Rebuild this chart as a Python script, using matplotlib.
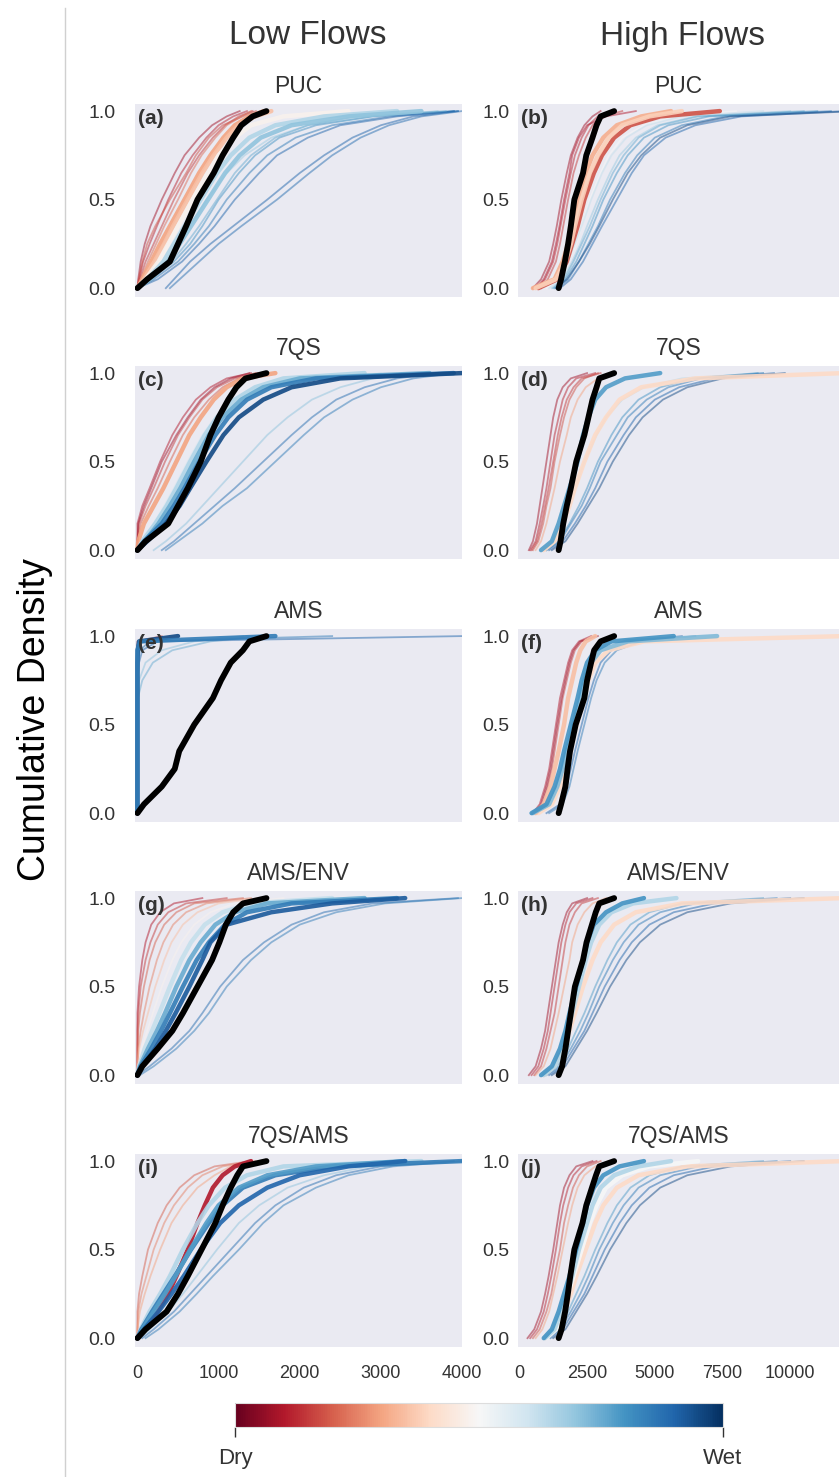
import matplotlib.pyplot as plt
import numpy as np
from matplotlib.lines import Line2D

plt.rcParams['font.family'] = ['Liberation Sans', 'DejaVu Sans']
TXT = '#333333'

# cumulative density levels at which each ensemble member's flow quantile is listed
probs = [0, .05, .15, .25, .35, .5, .65, .75, .85, .92, .97, 1.0]

# ---- (a) low flows, PUC ----
a_obs = [0, 120, 400, 500, 600, 740, 940, 1050, 1180, 1280, 1420, 1590]
a_curves = [
    [0, 10, 40, 90, 160, 300, 460, 580, 760, 920, 1100, 1260],
    [0, 20, 70, 150, 240, 380, 540, 680, 850, 1000, 1180, 1350],
    [0, 30, 100, 200, 300, 450, 620, 760, 930, 1080, 1250, 1420],
    [0, 15, 60, 120, 220, 400, 600, 720, 880, 1050, 1300, 1460],
    [0, 40, 130, 230, 330, 500, 660, 790, 960, 1100, 1280, 1400],
    [0, 60, 170, 280, 400, 580, 760, 900, 1060, 1200, 1380, 1560],
    [0, 80, 210, 330, 440, 620, 800, 940, 1100, 1250, 1450, 1650],
    [0, 100, 260, 380, 500, 680, 870, 1000, 1200, 1400, 1800, 2600],
    [0, 120, 320, 450, 580, 780, 980, 1150, 1380, 1700, 2300, 3200],
    [0, 150, 380, 520, 660, 870, 1080, 1260, 1520, 1900, 2600, 3500],
    [0, 140, 350, 500, 640, 850, 1100, 1320, 1650, 2100, 2900, 3700],
    [0, 160, 450, 650, 800, 1000, 1250, 1450, 1750, 2200, 2900, 3900],
    [0, 200, 500, 700, 880, 1100, 1380, 1600, 1950, 2400, 3100, 3950],
    [0, 250, 550, 760, 950, 1200, 1500, 1720, 2100, 2500, 3200, 3900],
    [0, 180, 420, 600, 760, 980, 1200, 1400, 1700, 2100, 2700, 3800],
    [350, 450, 650, 900, 1180, 1600, 2000, 2300, 2650, 3000, 3400, 3950],
    [400, 520, 760, 1000, 1280, 1720, 2120, 2400, 2750, 3100, 3500, 4000],
]
a_wet = [0.08, 0.12, 0.15, 0.18, 0.22, 0.30, 0.35, 0.48, 0.65, 0.70, 0.68,
         0.80, 0.85, 0.90, 0.75, 0.90, 0.88]
a_sel = [0, 0, 0, 0, 0, 1, 1, 1, 1, 1, 0, 0, 0, 0, 0, 0, 0]

# ---- (b) high flows, PUC ----
b_obs = [1450, 1540, 1680, 1800, 1900, 2030, 2350, 2470, 2700, 2850, 3000, 3500]
b_curves = [
    [500, 800, 1100, 1250, 1380, 1550, 1750, 1900, 2150, 2400, 2700, 3000],
    [650, 950, 1250, 1400, 1520, 1700, 1900, 2050, 2300, 2550, 2900, 3400],
    [800, 1050, 1350, 1500, 1620, 1800, 2000, 2200, 2450, 2700, 3100, 3800],
    [600, 900, 1200, 1350, 1480, 1650, 1850, 1950, 2200, 2500, 3200, 4300],
    [1000, 1500, 1800, 2100, 2300, 2600, 3000, 3300, 3800, 4600, 5800, 8000],
    [1100, 1500, 1800, 2050, 2300, 2650, 3050, 3400, 3950, 4700, 6000, 9000],
    [1200, 1600, 1950, 2250, 2500, 2900, 3350, 3700, 4300, 5100, 6500, 10000],
    [1250, 1650, 2000, 2300, 2600, 3000, 3450, 3850, 4400, 5200, 6600, 10500],
    [1300, 1700, 2100, 2400, 2700, 3100, 3600, 4000, 4600, 5500, 7000, 11000],
    [1400, 1800, 2200, 2550, 2900, 3350, 3900, 4350, 5000, 6000, 7600, 11500],
    [1500, 1900, 2350, 2700, 3050, 3600, 4150, 4600, 5400, 6500, 8200, 12000],
    [1350, 1750, 2200, 2600, 2950, 3450, 4000, 4500, 5200, 6200, 7800, 12500],
    [700, 1400, 1750, 1950, 2150, 2400, 2750, 3050, 3500, 4100, 5200, 7400],
    [500, 1300, 1600, 1800, 1950, 2150, 2450, 2700, 3100, 3600, 4500, 5600],
    [600, 1350, 1700, 1900, 2050, 2300, 2600, 2900, 3300, 3800, 4800, 6000],
]
b_wet = [0.08, 0.12, 0.15, 0.10, 0.50, 0.62, 0.68, 0.75, 0.80, 0.85, 0.90,
         0.95, 0.18, 0.32, 0.38]
b_sel = [0, 0, 0, 0, 0, 0, 0, 0, 0, 0, 0, 0, 1, 1, 1]

# ---- (c) low flows, 7QS ----
c_obs = [0, 100, 380, 500, 620, 780, 900, 1000, 1120, 1220, 1330, 1590]
c_curves = [
    [0, 0, 0, 60, 150, 280, 430, 560, 720, 900, 1100, 1400],
    [0, 0, 20, 100, 200, 340, 500, 640, 800, 980, 1200, 1480],
    [0, 0, 40, 140, 250, 400, 560, 700, 880, 1050, 1250, 1450],
    [0, 0, 10, 80, 170, 300, 480, 620, 780, 950, 1150, 1380],
    [0, 60, 200, 330, 450, 620, 800, 960, 1180, 1450, 1900, 3000],
    [300, 450, 700, 950, 1200, 1550, 1900, 2150, 2450, 2800, 3200, 3700],
    [350, 500, 800, 1050, 1350, 1700, 2050, 2300, 2650, 3000, 3400, 3900],
    [200, 350, 600, 800, 1000, 1300, 1600, 1850, 2150, 2500, 2900, 3500],
    [0, 10, 80, 200, 320, 480, 640, 780, 940, 1100, 1300, 1700],
    [0, 60, 220, 360, 480, 650, 830, 980, 1200, 1450, 1800, 2800],
    [0, 90, 260, 400, 530, 700, 880, 1050, 1280, 1550, 2000, 3600],
    [0, 80, 300, 450, 580, 760, 960, 1120, 1350, 1650, 2200, 3900],
    [0, 120, 350, 520, 650, 850, 1060, 1250, 1550, 1900, 2500, 4000],
]
c_wet = [0.10, 0.15, 0.20, 0.08, 0.60, 0.88, 0.85, 0.70, 0.30, 0.65, 0.75,
         0.85, 0.95]
c_sel = [0, 0, 0, 0, 0, 0, 0, 0, 1, 1, 1, 1, 1]

# ---- (d) high flows, 7QS ----
d_obs = [1450, 1520, 1620, 1750, 1900, 2100, 2400, 2550, 2700, 2850, 2950, 3500]
d_curves = [
    [350, 500, 650, 750, 850, 1000, 1150, 1250, 1400, 1600, 1900, 2500],
    [400, 600, 750, 880, 1000, 1150, 1300, 1450, 1600, 1800, 2100, 2800],
    [500, 700, 880, 1000, 1150, 1300, 1500, 1650, 1850, 2100, 2400, 2900],
    [450, 650, 820, 950, 1080, 1250, 1420, 1560, 1750, 2000, 2300, 3000],
    [600, 800, 1000, 1150, 1300, 1500, 1750, 1900, 2150, 2450, 2900, 3400],
    [800, 1200, 1550, 1800, 2050, 2400, 2850, 3200, 3800, 4600, 6000, 9000],
    [1000, 1450, 1850, 2200, 2500, 2900, 3400, 3800, 4400, 5200, 6400, 8800],
    [1000, 1500, 1900, 2300, 2600, 3000, 3600, 4000, 4700, 5500, 6700, 9000],
    [1100, 1600, 2050, 2450, 2800, 3250, 3850, 4300, 5000, 5900, 7200, 9400],
    [1200, 1700, 2150, 2550, 2950, 3450, 4050, 4550, 5300, 6200, 7500, 9800],
    [900, 1300, 1600, 1850, 2050, 2400, 2800, 3200, 3700, 4500, 6500, 12000],
    [800, 1200, 1450, 1650, 1850, 2150, 2350, 2550, 2800, 3200, 3900, 5200],
]
d_wet = [0.08, 0.12, 0.18, 0.15, 0.30, 0.65, 0.80, 0.85, 0.90, 0.95, 0.40, 0.78]
d_sel = [0, 0, 0, 0, 0, 0, 0, 0, 0, 0, 1, 1]

# ---- (e) low flows, AMS ----
e_obs = [0, 80, 300, 460, 515, 700, 930, 1030, 1150, 1300, 1380, 1590]
e_curves = [
    [0, 0, 0, 0, 0, 0, 0, 0, 0, 0, 0, 300],
    [0, 0, 0, 0, 0, 0, 5, 60, 190, 430, 900, 1500],
    [0, 0, 0, 0, 0, 0, 0, 20, 100, 300, 700, 1300],
    [0, 0, 0, 0, 0, 0, 0, 0, 20, 60, 250, 4000],
    [0, 0, 0, 0, 0, 0, 0, 0, 0, 30, 150, 2400],
    [0, 0, 0, 0, 0, 0, 0, 0, 0, 5, 20, 500],
    [0, 0, 0, 0, 0, 0, 0, 0, 0, 0, 30, 1700],
]
e_wet = [0.15, 0.75, 0.70, 0.90, 0.85, 0.95, 0.85]
e_sel = [0, 0, 0, 0, 0, 1, 1]

# ---- (f) high flows, AMS ----
f_obs = [1450, 1540, 1700, 1780, 1870, 2080, 2400, 2500, 2650, 2760, 3000, 3500]
f_curves = [
    [500, 750, 950, 1100, 1200, 1350, 1500, 1650, 1800, 1950, 2200, 2650],
    [600, 850, 1050, 1200, 1300, 1450, 1600, 1750, 1900, 2050, 2300, 2800],
    [550, 800, 1000, 1150, 1250, 1400, 1560, 1700, 1850, 2000, 2250, 2900],
    [1000, 1500, 1750, 1900, 2050, 2300, 2550, 2750, 3000, 3400, 4200, 6000],
    [1100, 1600, 1850, 2000, 2150, 2400, 2650, 2850, 3150, 3600, 4500, 6500],
    [700, 1200, 1500, 1700, 1850, 2100, 2350, 2550, 2800, 3300, 4600, 12000],
    [600, 900, 1150, 1300, 1450, 1650, 1800, 1950, 2100, 2250, 2450, 2800],
    [500, 1100, 1400, 1600, 1750, 2000, 2250, 2400, 2650, 3000, 4000, 7300],
    [450, 1000, 1300, 1500, 1650, 1900, 2150, 2300, 2500, 2800, 3400, 5700],
]
f_wet = [0.10, 0.15, 0.08, 0.90, 0.85, 0.40, 0.35, 0.72, 0.80]
f_sel = [0, 0, 0, 0, 0, 1, 1, 1, 1]

# ---- (g) low flows, AMS/ENV ----
g_obs = [0, 60, 250, 430, 560, 740, 920, 1010, 1090, 1180, 1300, 1590]
g_curves = [
    [0, 0, 0, 0, 0, 20, 60, 100, 170, 280, 450, 800],
    [0, 0, 0, 0, 10, 40, 100, 160, 250, 380, 600, 1100],
    [0, 0, 0, 10, 30, 80, 150, 220, 330, 480, 700, 1300],
    [0, 0, 10, 40, 80, 150, 240, 320, 440, 600, 850, 1400],
    [0, 0, 20, 70, 130, 220, 330, 420, 560, 740, 1000, 1500],
    [0, 10, 50, 120, 190, 300, 430, 540, 700, 900, 1200, 1800],
    [0, 150, 420, 640, 800, 1020, 1300, 1560, 1900, 2300, 2900, 3950],
    [30, 200, 480, 700, 880, 1100, 1400, 1650, 2000, 2450, 3050, 4000],
    [0, 20, 90, 180, 270, 400, 540, 660, 830, 1050, 1400, 2400],
    [0, 30, 130, 240, 340, 480, 640, 780, 960, 1200, 1600, 2800],
    [0, 40, 170, 290, 400, 560, 730, 880, 1080, 1350, 1900, 3200],
    [0, 60, 220, 350, 470, 640, 800, 900, 1100, 1650, 2400, 3300],
]
g_wet = [0.10, 0.15, 0.20, 0.25, 0.35, 0.48, 0.88, 0.85, 0.62, 0.75, 0.85, 0.92]
g_sel = [0, 0, 0, 0, 0, 0, 0, 0, 1, 1, 1, 1]

# ---- (h) high flows, AMS/ENV ----
h_obs = [1450, 1580, 1700, 1800, 1900, 2050, 2350, 2480, 2680, 2820, 2950, 3500]
h_curves = [
    [350, 600, 800, 950, 1050, 1200, 1350, 1450, 1600, 1750, 1950, 2500],
    [450, 700, 900, 1050, 1150, 1300, 1450, 1550, 1700, 1850, 2100, 2700],
    [550, 800, 1000, 1150, 1300, 1450, 1600, 1700, 1850, 2050, 2300, 2900],
    [600, 900, 1150, 1300, 1450, 1650, 1850, 1950, 2150, 2400, 2700, 3200],
    [950, 1400, 1800, 2100, 2400, 2800, 3250, 3600, 4100, 4800, 6000, 9000],
    [1000, 1500, 1900, 2250, 2550, 2950, 3450, 3850, 4400, 5200, 6500, 9500],
    [1100, 1600, 2000, 2400, 2700, 3150, 3700, 4150, 4800, 5700, 7200, 10000],
    [1200, 1700, 2100, 2500, 2850, 3350, 3950, 4450, 5200, 6200, 7800, 10500],
    [900, 1300, 1600, 1850, 2050, 2350, 2700, 3000, 3500, 4300, 6000, 12000],
    [900, 1300, 1600, 1800, 1950, 2200, 2450, 2650, 2950, 3400, 4200, 5800],
    [800, 1200, 1500, 1700, 1850, 2100, 2350, 2500, 2750, 3200, 3800, 4600],
]
h_wet = [0.08, 0.12, 0.15, 0.30, 0.78, 0.85, 0.90, 0.95, 0.40, 0.65, 0.80]
h_sel = [0, 0, 0, 0, 0, 0, 0, 0, 1, 1, 1]

# ---- (i) low flows, 7QS/AMS ----
i_obs = [0, 100, 360, 500, 620, 790, 960, 1050, 1150, 1230, 1300, 1590]
i_curves = [
    [0, 0, 0, 20, 60, 130, 250, 360, 520, 700, 950, 1400],
    [0, 0, 10, 50, 110, 200, 330, 450, 620, 800, 1050, 1450],
    [0, 0, 30, 90, 160, 280, 420, 560, 740, 950, 1150, 1500],
    [60, 200, 450, 650, 850, 1150, 1450, 1700, 2050, 2450, 3000, 3900],
    [100, 260, 520, 730, 930, 1250, 1550, 1800, 2200, 2600, 3150, 4000],
    [30, 150, 380, 560, 730, 980, 1250, 1500, 1850, 2300, 2850, 3700],
    [0, 80, 250, 380, 480, 620, 740, 830, 930, 1050, 1200, 1400],
    [0, 40, 150, 280, 400, 560, 740, 880, 1080, 1350, 1800, 3500],
    [0, 50, 180, 320, 460, 660, 880, 1050, 1300, 1700, 2400, 4000],
    [0, 60, 200, 340, 470, 650, 850, 1000, 1250, 1600, 2200, 3300],
    [0, 80, 260, 420, 570, 780, 1020, 1250, 1600, 2000, 2600, 3300],
]
i_wet = [0.20, 0.25, 0.30, 0.88, 0.85, 0.70, 0.10, 0.65, 0.85, 0.78, 0.90]
i_sel = [0, 0, 0, 0, 0, 0, 1, 1, 1, 1, 1]

# ---- (j) high flows, 7QS/AMS ----
j_obs = [1450, 1560, 1690, 1790, 1880, 2030, 2330, 2470, 2680, 2830, 2950, 3500]
j_curves = [
    [300, 550, 800, 950, 1080, 1250, 1400, 1500, 1650, 1850, 2100, 2700],
    [400, 650, 900, 1050, 1180, 1350, 1500, 1620, 1800, 2000, 2300, 2850],
    [500, 750, 1000, 1180, 1300, 1500, 1650, 1800, 1980, 2200, 2500, 3000],
    [600, 850, 1100, 1250, 1400, 1600, 1800, 1950, 2150, 2400, 2800, 3300],
    [1000, 1450, 1800, 2100, 2400, 2800, 3250, 3600, 4100, 4800, 6000, 9000],
    [1050, 1500, 1900, 2250, 2550, 2950, 3450, 3850, 4400, 5200, 6600, 9500],
    [1150, 1600, 2000, 2400, 2700, 3150, 3700, 4150, 4800, 5700, 7200, 10000],
    [1250, 1700, 2100, 2500, 2850, 3350, 3950, 4450, 5200, 6200, 7800, 10500],
    [950, 1350, 1650, 1900, 2100, 2450, 2800, 3100, 3600, 4400, 6200, 12000],
    [1000, 1350, 1600, 1800, 2000, 2300, 2600, 2850, 3200, 3800, 4800, 6600],
    [950, 1300, 1550, 1750, 1950, 2200, 2500, 2700, 3000, 3500, 4400, 5600],
    [900, 1200, 1450, 1650, 1850, 2100, 2350, 2500, 2750, 3100, 3700, 4600],
]
j_wet = [0.08, 0.12, 0.18, 0.30, 0.78, 0.85, 0.90, 0.95, 0.40, 0.50, 0.65, 0.80]
j_sel = [0, 0, 0, 0, 0, 0, 0, 0, 1, 1, 1, 1]

metrics = ['PUC', '7QS', 'AMS', 'AMS/ENV', '7QS/AMS']
panels = [
    (a_curves, a_wet, a_sel, a_obs), (b_curves, b_wet, b_sel, b_obs),
    (c_curves, c_wet, c_sel, c_obs), (d_curves, d_wet, d_sel, d_obs),
    (e_curves, e_wet, e_sel, e_obs), (f_curves, f_wet, f_sel, f_obs),
    (g_curves, g_wet, g_sel, g_obs), (h_curves, h_wet, h_sel, h_obs),
    (i_curves, i_wet, i_sel, i_obs), (j_curves, j_wet, j_sel, j_obs),
]
letters = 'abcdefghij'
low_ticks = [0, 1000, 2000, 3000, 4000]
high_ticks = [0, 2500, 5000, 7500, 10000]

cmap = plt.get_cmap('RdBu')
W, H = 839, 1477
fig = plt.figure(figsize=(W / 100, H / 100), dpi=100)

row_bottoms = [297, 559, 822, 1084, 1347]
col_x = [(135, 462), (518, 839)]
panel_h = 193

for k, (curves, wet, sel, obs) in enumerate(panels):
    row, col = divmod(k, 2)
    x0, x1 = col_x[col]
    ax = fig.add_axes([x0 / W, 1 - row_bottoms[row] / H,
                       (x1 - x0) / W, panel_h / H])
    ax.set_facecolor('#EAEAF2')
    for s in ax.spines.values():
        s.set_visible(False)

    # plain members underneath, highlighted members above, observed on top
    order = sorted(range(len(curves)), key=lambda n: sel[n])
    for n in order:
        if sel[n]:
            ax.plot(curves[n], probs, color=cmap(wet[n]), lw=3.2, alpha=0.9,
                    solid_capstyle='round', solid_joinstyle='round')
        else:
            ax.plot(curves[n], probs, color=cmap(wet[n]), lw=1.3, alpha=0.5)
    ax.plot(obs, probs, color='black', lw=4.2, solid_capstyle='round',
            solid_joinstyle='round')

    ax.set_ylim(-0.05, 1.04)
    ax.set_yticks([0, 0.5, 1.0])
    ax.set_yticklabels(['0.0', '0.5', '1.0'])
    if col == 0:
        ax.set_xlim(-30, 4000)
        ax.set_xticks(low_ticks)
        ypad = 14
    else:
        ax.set_xlim(-50, 11800)
        ax.set_xticks(high_ticks)
        ypad = 6
    ax.tick_params(axis='y', length=0, pad=ypad, labelsize=14, labelcolor=TXT)
    ax.tick_params(axis='x', length=0, pad=13, labelsize=13, labelcolor=TXT)
    if row < 4:
        ax.set_xticklabels([])
    ax.set_title(metrics[row], fontsize=16.5, color=TXT, pad=8)
    ax.text(0.008, 0.975, '(%s)' % letters[k], transform=ax.transAxes,
            fontsize=15, fontweight='bold', color=TXT, va='top', ha='left')

fig.text(308 / W, 1 - 36 / H, 'Low Flows', fontsize=24, color=TXT,
         ha='center', va='center')
fig.text(683 / W, 1 - 36 / H, 'High Flows', fontsize=24, color=TXT,
         ha='center', va='center')
fig.text(35 / W, 1 - 720 / H, 'Cumulative Density', fontsize=27, color='black',
         rotation=90, ha='center', va='center')

# thin divider at the left edge
fig.add_artist(Line2D([65 / W, 65 / W], [0, 1 - 8 / H], color='#d0d0d0', lw=1))

# dry-to-wet colour scale
cax = fig.add_axes([235 / W, 1 - 1427 / H, (723 - 235) / W, 24 / H])
sm = plt.cm.ScalarMappable(cmap=cmap, norm=plt.Normalize(0, 1))
cb = fig.colorbar(sm, cax=cax, orientation='horizontal', ticks=[0, 1])
cb.ax.set_xticklabels(['Dry', 'Wet'])
cb.ax.tick_params(length=7, width=1, color=TXT, labelsize=16, labelcolor=TXT,
                  pad=8)
cb.outline.set_edgecolor('#dddddd')
cb.outline.set_linewidth(0.8)

plt.savefig('out.png', dpi=100)
